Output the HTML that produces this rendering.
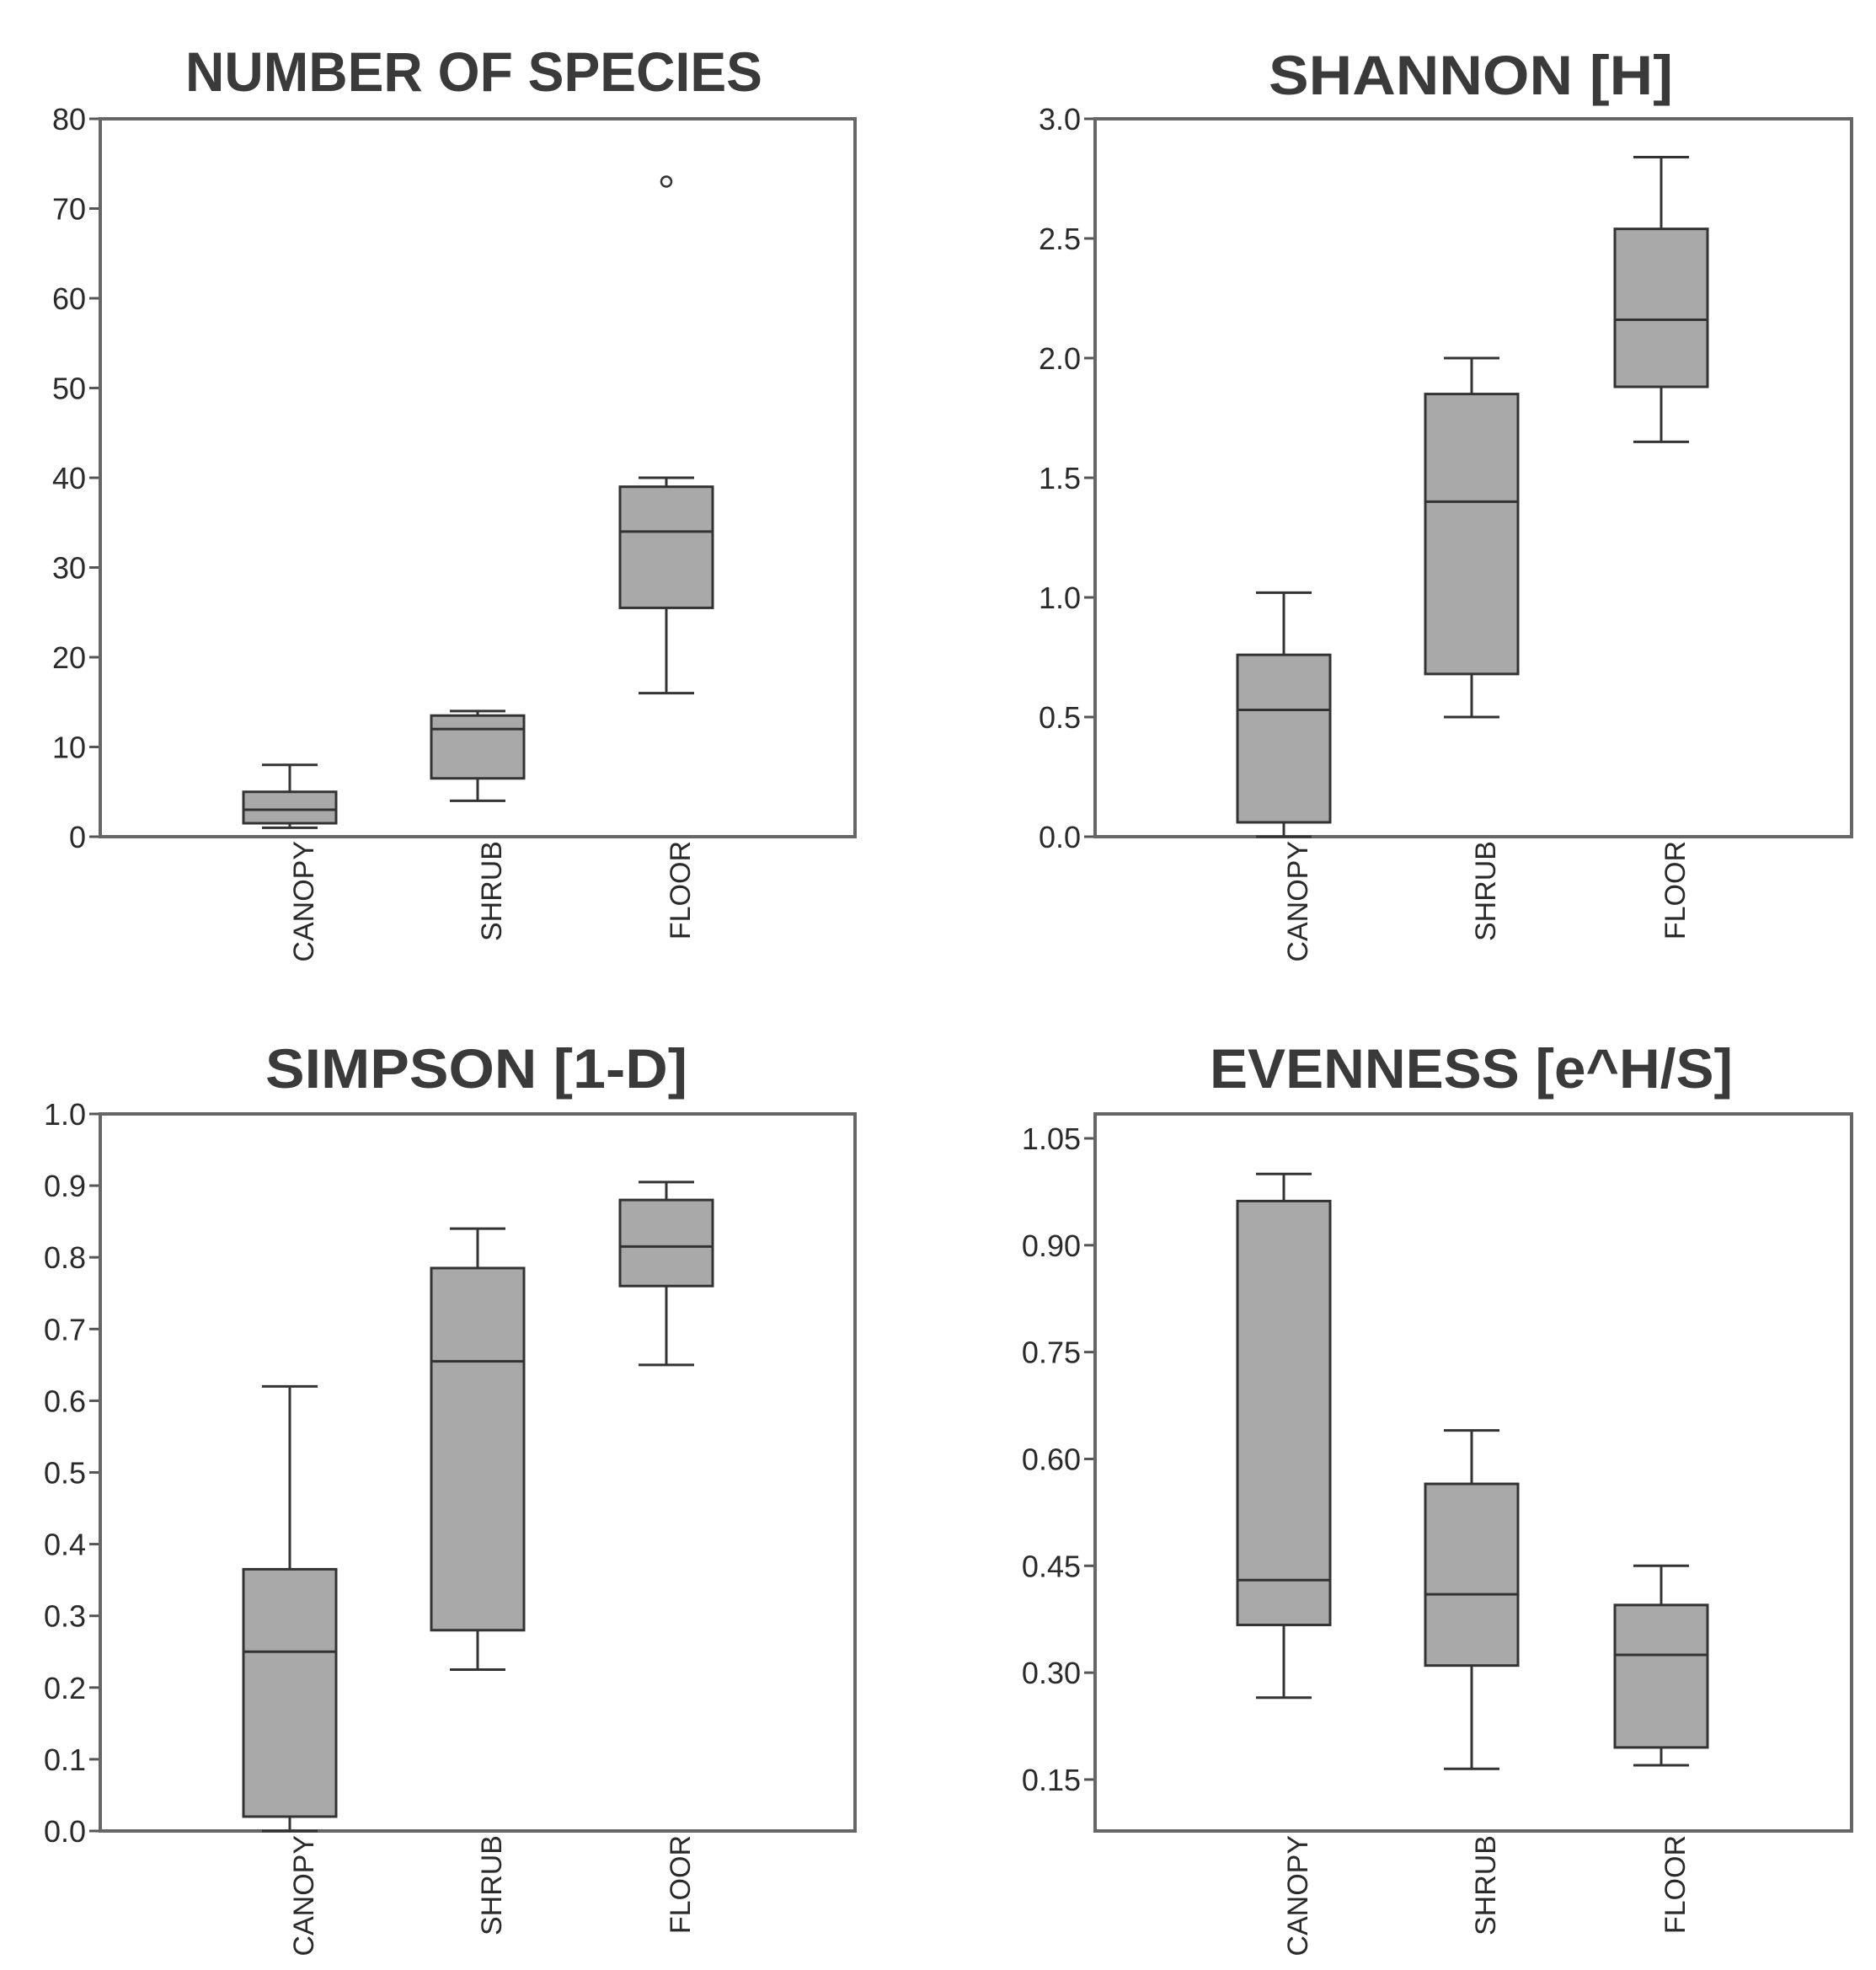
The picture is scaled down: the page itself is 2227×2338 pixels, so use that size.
<!DOCTYPE html>
<html><head><meta charset="utf-8"><style>
html,body{margin:0;padding:0;background:#fff}
svg{display:block}
</style></head><body>
<svg id="fig" xmlns="http://www.w3.org/2000/svg" width="2227" height="2338" viewBox="0 0 2227 2338" font-family="'Liberation Sans', 'DejaVu Sans', sans-serif"></svg>
<script>
const categories = ["CANOPY", "SHRUB", "FLOOR"];
// [min, q1, median, q3, max]
const speciesStats = [[1, 1.5, 3, 5, 8], [4, 6.5, 12, 13.5, 14], [16, 25.5, 34, 39, 40]];
const speciesOutliers = [[], [], [73]];
const speciesTicks = ["0", "10", "20", "30", "40", "50", "60", "70", "80"];
const shannonStats = [[0.0, 0.06, 0.53, 0.76, 1.02], [0.5, 0.68, 1.4, 1.85, 2.0], [1.65, 1.88, 2.16, 2.54, 2.84]];
const shannonTicks = ["0.0", "0.5", "1.0", "1.5", "2.0", "2.5", "3.0"];
const simpsonStats = [[0.0, 0.02, 0.25, 0.365, 0.62], [0.225, 0.28, 0.655, 0.785, 0.84], [0.65, 0.76, 0.815, 0.88, 0.905]];
const simpsonTicks = ["0.0", "0.1", "0.2", "0.3", "0.4", "0.5", "0.6", "0.7", "0.8", "0.9", "1.0"];
const evennessStats = [[0.265, 0.367, 0.43, 0.962, 1.0], [0.165, 0.31, 0.41, 0.565, 0.64], [0.17, 0.195, 0.325, 0.395, 0.45]];
const evennessTicks = ["0.15", "0.30", "0.45", "0.60", "0.75", "0.90", "1.05"];

const NS = "http://www.w3.org/2000/svg";
const svg = document.getElementById("fig");
function mk(tag, attrs, parent) {
  const e = document.createElementNS(NS, tag);
  for (const k in attrs) e.setAttribute(k, attrs[k]);
  (parent || svg).appendChild(e);
  return e;
}

const panels = [
  {key:"species", title:"NUMBER OF SPECIES", tx:220, tw:685, ty:108, x0:119, x1:1015, y0:141, y1:993, dmin:0, dmax:80, stats:speciesStats, outliers:speciesOutliers, ticks:speciesTicks, cx:[344,567,791]},
  {key:"shannon", title:"SHANNON [H]", tx:1506, tw:480, ty:112, x0:1300, x1:2198, y0:141, y1:993, dmin:0, dmax:3, stats:shannonStats, outliers:[[],[],[]], ticks:shannonTicks, cx:[1524,1747,1972]},
  {key:"simpson", title:"SIMPSON [1-D]", tx:315, tw:501, ty:1291, x0:119, x1:1015, y0:1322, y1:2173, dmin:0, dmax:1, stats:simpsonStats, outliers:[[],[],[]], ticks:simpsonTicks, cx:[344,567,791]},
  {key:"evenness", title:"EVENNESS [e^H/S]", tx:1436, tw:621, ty:1291, x0:1300, x1:2198, y0:1322, y1:2173, dmin:0.0778, dmax:1.0843, stats:evennessStats, outliers:[[],[],[]], ticks:evennessTicks, cx:[1524,1747,1972]}
];

panels.forEach(p => {
  const g = mk("g", {});
  
  
  const yS = v => p.y1 - (v - p.dmin) / (p.dmax - p.dmin) * (p.y1 - p.y0);

  const t = mk("text", {x:p.tx, y:p.ty, "font-size":66, "font-weight":"bold", fill:"#3a3a3a", textLength:p.tw, lengthAdjust:"spacingAndGlyphs"}, g);
  t.textContent = p.title;
  
  

  p.ticks.forEach(lbl => {
    const y = yS(parseFloat(lbl));
    const tk = mk("line", {x1:p.x0-13, x2:p.x0, y1:y, y2:y, stroke:"#555", "stroke-width":3}, g);
    
    
    const tl = mk("text", {x:p.x0-17, y:y+13, "font-size":36, fill:"#2a2a2a", "text-anchor":"end"}, g);
    tl.textContent = lbl;
    
    
  });

  const fr = mk("rect", {x:p.x0, y:p.y0, width:p.x1-p.x0, height:p.y1-p.y0, fill:"none", stroke:"#666", "stroke-width":4}, g);
  
  

  p.stats.forEach((s, i) => {
    const cx = p.cx[i];
    const bg = mk("g", {stroke:"#333", "stroke-width":3}, g);
    
    
    mk("line", {x1:cx, x2:cx, y1:yS(s[0]), y2:yS(s[1])}, bg);
    mk("line", {x1:cx, x2:cx, y1:yS(s[3]), y2:yS(s[4])}, bg);
    mk("line", {x1:cx-33, x2:cx+33, y1:yS(s[0]), y2:yS(s[0])}, bg);
    mk("line", {x1:cx-33, x2:cx+33, y1:yS(s[4]), y2:yS(s[4])}, bg);
    mk("rect", {x:cx-55, y:yS(s[3]), width:110, height:yS(s[1])-yS(s[3]), fill:"#a9a9a9"}, bg);
    mk("line", {x1:cx-55, x2:cx+55, y1:yS(s[2]), y2:yS(s[2])}, bg);
    p.outliers[i].forEach(o => {
      const c = mk("circle", {cx:cx, cy:yS(o), r:6, fill:"#fff", stroke:"#333", "stroke-width":2.5}, g);
      
      
    });
    const cl = mk("text", {x:0, y:0, "font-size":34, fill:"#2a2a2a", "text-anchor":"end", transform:"translate(" + (cx+28) + "," + (p.y1+5) + ") rotate(-90)"}, g);
    cl.textContent = categories[i];
    
    
  });
});
</script>
</body></html>
